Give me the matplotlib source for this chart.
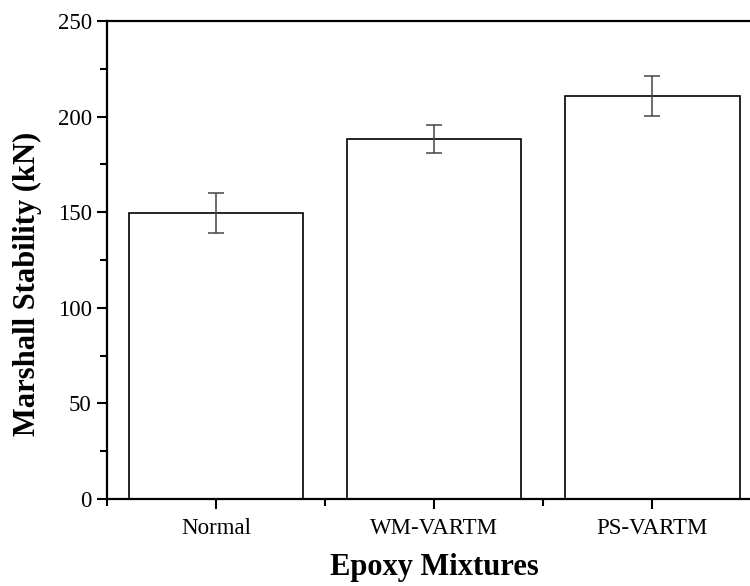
import matplotlib.pyplot as plt
from matplotlib.ticker import MultipleLocator, FixedLocator

mixtures = ['Normal', 'WM-VARTM', 'PS-VARTM']
stability = [149.6, 188.1, 211.0]
stability_err = [10.6, 7.3, 10.5]

plt.rcParams['font.family'] = ['Liberation Serif', 'DejaVu Serif']

fig = plt.figure(figsize=(7.5, 5.86), dpi=100)
ax = fig.add_axes([0.1427, 0.1485, 0.8725, 0.8155])

x = range(len(mixtures))
ax.bar(x, stability, width=0.8, color='white', edgecolor='black', linewidth=1.2)
ax.errorbar(x, stability, yerr=stability_err, fmt='none', ecolor='#444444',
            elinewidth=1.1, capsize=6, capthick=1.1)

ax.set_xlim(-0.5, 2.5)
ax.set_ylim(0, 250)
ax.set_xticks(list(x))
ax.set_xticklabels(mixtures)
ax.xaxis.set_minor_locator(FixedLocator([-0.5, 0.5, 1.5]))
ax.yaxis.set_major_locator(MultipleLocator(50))
ax.yaxis.set_minor_locator(MultipleLocator(25))

ax.tick_params(axis='both', which='major', direction='out', length=7.5, width=1.5,
               labelsize=16.5)
ax.tick_params(axis='x', which='major', pad=6.5)
ax.tick_params(axis='both', which='minor', direction='out', length=5, width=1.5)
for s in ax.spines.values():
    s.set_linewidth(1.6)

ax.set_ylabel('Marshall Stability (kN)', fontsize=22, fontweight='bold')
ax.yaxis.set_label_coords(-0.099, 0.45)
ax.set_xlabel('Epoxy Mixtures', fontsize=22, fontweight='bold', labelpad=10)

fig.savefig('out.png', dpi=100)
